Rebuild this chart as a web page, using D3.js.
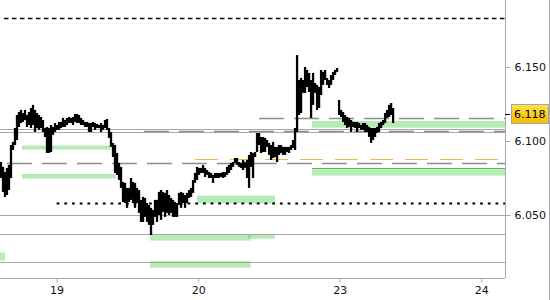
<!DOCTYPE html>
<html>
<head>
<meta charset="utf-8">
<script src="https://cdn.jsdelivr.net/npm/d3@7"></script>
<style>
body { margin: 0; background: #fff; }
svg { display: block; font-family: "DejaVu Sans", sans-serif; }
</style>
</head>
<body>
<svg id="chart"></svg>
<script>
const WIDTH = 550;
const HEIGHT = 300;
const PLOT_W = 505;
const PLOT_H = 278;

// x runs in trading days, weekend removed: 0 = 18th, 1 = 19th, 2 = 20th, 3 = 23rd, 4 = 24th
const DAY_TICKS = [1, 2, 3, 4];
const DAY_LABELS = ["19", "20", "23", "24"];
const X_DOMAIN = [0.6, 4.168];
const Y_DOMAIN = [6.0074, 6.1953];
const PRICE_TICKS = [6.050, 6.100, 6.150];
const PRICE_LABELS = ["6.050", "6.100", "6.150"];

const FIRST_BAR = 0.607;
const BARS_PER_DAY = 70.75;

const HIGHS = [
    6.0858, 6.0825, 6.0791, 6.0818, 6.0838, 6.0973, 6.0994, 6.1088, 6.1176, 6.1196,
    6.1210, 6.1189, 6.1210, 6.1176, 6.1196, 6.1223, 6.1244, 6.1210, 6.1189, 6.1176,
    6.1162, 6.1142, 6.1088, 6.1095, 6.1088, 6.1108, 6.1095, 6.1122, 6.1108, 6.1129,
    6.1129, 6.1156, 6.1142, 6.1156, 6.1162, 6.1156, 6.1162, 6.1183, 6.1183, 6.1176,
    6.1156, 6.1142, 6.1129, 6.1129, 6.1122, 6.1122, 6.1129, 6.1122, 6.1115, 6.1108,
    6.1122, 6.1108, 6.1142, 6.1149, 6.1088, 6.1061, 6.0987, 6.0973, 6.0919, 6.0852,
    6.0825, 6.0723, 6.0717, 6.0683, 6.0683, 6.0750, 6.0723, 6.0717, 6.0683, 6.0669,
    6.0602, 6.0622, 6.0615, 6.0581, 6.0568, 6.0548, 6.0534, 6.0602, 6.0602, 6.0656,
    6.0669, 6.0656, 6.0649, 6.0669, 6.0635, 6.0615, 6.0602, 6.0588, 6.0581, 6.0649,
    6.0656, 6.0649, 6.0635, 6.0649, 6.0669, 6.0683, 6.0737, 6.0784, 6.0825, 6.0818,
    6.0818, 6.0838, 6.0818, 6.0804, 6.0791, 6.0784, 6.0771, 6.0784, 6.0784, 6.0784,
    6.0784, 6.0791, 6.0791, 6.0825, 6.0838, 6.0852, 6.0858, 6.0885, 6.0885, 6.0858,
    6.0852, 6.0872, 6.0858, 6.0872, 6.0906, 6.0926, 6.0919, 6.0926, 6.1054, 6.1054,
    6.1027, 6.1027, 6.1021, 6.1007, 6.0987, 6.0973, 6.0994, 6.0960, 6.0960, 6.0973,
    6.0973, 6.0960, 6.0960, 6.0960, 6.0960, 6.0973, 6.1007, 6.1088, 6.1581, 6.1412,
    6.1426, 6.1412, 6.1500, 6.1480, 6.1460, 6.1412, 6.1460, 6.1392, 6.1379, 6.1365,
    6.1480, 6.1467, 6.1480, 6.1426, 6.1412, 6.1446, 6.1467, 6.1480, 6.1494, 6.1277,
    6.1210, 6.1196, 6.1176, 6.1162, 6.1156, 6.1142, 6.1129, 6.1129, 6.1129, 6.1122,
    6.1108, 6.1122, 6.1122, 6.1108, 6.1095, 6.1088, 6.1088, 6.1088, 6.1095, 6.1122,
    6.1129, 6.1142, 6.1189, 6.1210, 6.1244, 6.1257, 6.1223
];
const LOWS = [
    6.0750, 6.0656, 6.0622, 6.0635, 6.0669, 6.0750, 6.0939, 6.0973, 6.1007, 6.1095,
    6.1122, 6.1129, 6.1142, 6.1095, 6.1108, 6.1088, 6.1108, 6.1061, 6.1088, 6.1075,
    6.1088, 6.1061, 6.1027, 6.0919, 6.0919, 6.0926, 6.1041, 6.1061, 6.1075, 6.1075,
    6.1088, 6.1095, 6.1095, 6.1108, 6.1122, 6.1122, 6.1108, 6.1129, 6.1122, 6.1122,
    6.1108, 6.1108, 6.1095, 6.1095, 6.1061, 6.1061, 6.1095, 6.1075, 6.1088, 6.1088,
    6.1061, 6.1075, 6.1088, 6.1075, 6.1021, 6.0960, 6.0892, 6.0784, 6.0771, 6.0737,
    6.0683, 6.0588, 6.0581, 6.0548, 6.0588, 6.0602, 6.0581, 6.0548, 6.0581, 6.0514,
    6.0453, 6.0453, 6.0487, 6.0453, 6.0433, 6.0365, 6.0433, 6.0487, 6.0453, 6.0500,
    6.0467, 6.0521, 6.0487, 6.0514, 6.0500, 6.0514, 6.0487, 6.0487, 6.0487, 6.0568,
    6.0548, 6.0581, 6.0548, 6.0581, 6.0615, 6.0622, 6.0649, 6.0717, 6.0737, 6.0771,
    6.0784, 6.0784, 6.0757, 6.0771, 6.0750, 6.0750, 6.0717, 6.0750, 6.0750, 6.0750,
    6.0757, 6.0750, 6.0757, 6.0771, 6.0784, 6.0804, 6.0825, 6.0852, 6.0838, 6.0825,
    6.0818, 6.0804, 6.0818, 6.0750, 6.0683, 6.0825, 6.0750, 6.0892, 6.0926, 6.0973,
    6.0919, 6.0926, 6.0926, 6.0960, 6.0906, 6.0872, 6.0885, 6.0892, 6.0858, 6.0906,
    6.0919, 6.0906, 6.0906, 6.0926, 6.0919, 6.0939, 6.0953, 6.0939, 6.1061, 6.1176,
    6.1189, 6.1325, 6.1325, 6.1365, 6.1331, 6.1156, 6.1244, 6.1325, 6.1210, 6.1223,
    6.1311, 6.1379, 6.1412, 6.1379, 6.1358, 6.1379, 6.1412, 6.1446, 6.1467, 6.1176,
    6.1162, 6.1129, 6.1108, 6.1088, 6.1095, 6.1061, 6.1095, 6.1088, 6.1061, 6.1088,
    6.1075, 6.1075, 6.1061, 6.1061, 6.1027, 6.0987, 6.1007, 6.1027, 6.1054, 6.1061,
    6.1088, 6.1108, 6.1122, 6.1156, 6.1162, 6.1176, 6.1122
];
const LAST_PRICE = 6.118;

// full-width solid grey levels
const SOLID_LEVELS = [6.1081, 6.1059, 6.0500, 6.0370, 6.0181];

// dashed levels that start somewhere and run to the price axis
const GREY_DASH_PRICES = [6.1154, 6.1070, 6.0850];
const GREY_DASH_FROM = [2.430, 1.617, 0.649];
const ORANGE_DASH_PRICES = [6.0877];
const ORANGE_DASH_FROM = [1.978];
const BLACK_DASH_PRICES = [6.1831];
const BLACK_DASH_FROM = [0.628];
const DOTTED_PRICES = [6.0579];
const DOTTED_FROM = [1.0];
const GREEN_LINE_PRICES = [6.0816];
const GREEN_LINE_FROM = [2.805];

// green zones
const ZONE_FROM = [0.755, 0.755, 0.55, 1.660, 2.352, 1.660, 1.992, 2.805, 2.805];
const ZONE_TO = [1.377, 1.420, 0.635, 2.371, 2.543, 2.371, 2.543, 4.168, 4.168];
const ZONE_TOP = [6.0969, 6.0777, 6.0246, 6.0365, 6.0370, 6.0189, 6.0631, 6.1135, 6.0809];
const ZONE_BOTTOM = [6.0942, 6.0746, 6.0192, 6.0327, 6.0340, 6.0144, 6.0579, 6.1090, 6.0766];


const svg = d3.select("#chart")
    .attr("width", WIDTH)
    .attr("height", HEIGHT);

const x = d3.scaleLinear().domain(X_DOMAIN).range([0, PLOT_W]);
const y = d3.scaleLinear().domain(Y_DOMAIN).range([PLOT_H, 0]);

svg.append("clipPath").attr("id", "plot-clip")
    .append("rect")
    .attr("width", PLOT_W)
    .attr("height", PLOT_H);

const plot = svg.append("g").attr("clip-path", "url(#plot-clip)");

// zones
const zones = ZONE_FROM.map((f, i) => ({
    from: f, to: ZONE_TO[i], top: ZONE_TOP[i], bottom: ZONE_BOTTOM[i]
}));
plot.selectAll("rect.zone")
    .data(zones)
    .enter()
    .append("rect")
    .attr("class", "zone")
    .attr("x", d => x(d.from))
    .attr("width", d => x(d.to) - x(d.from))
    .attr("y", d => y(d.top))
    .attr("height", d => y(d.bottom) - y(d.top))
    .attr("fill", "rgb(90, 210, 90)")
    .attr("fill-opacity", 0.45);

function drawLevels(prices, from, color, width, dash) {
    plot.append("g")
        .selectAll("line")
        .data(prices.map((p, i) => ({ price: p, from: from ? from[i] : X_DOMAIN[0] })))
        .enter()
        .append("line")
        .attr("x1", d => x(d.from))
        .attr("x2", x(X_DOMAIN[1]))
        .attr("y1", d => Math.round(y(d.price)) + 0.5)
        .attr("y2", d => Math.round(y(d.price)) + 0.5)
        .attr("stroke", color)
        .attr("stroke-width", width)
        .attr("stroke-dasharray", dash);
}

drawLevels(SOLID_LEVELS, null, "#a9a9a9", 1, null);
drawLevels(GREY_DASH_PRICES, GREY_DASH_FROM, "#8c8c8c", 1.3, "25,10");
drawLevels(ORANGE_DASH_PRICES, ORANGE_DASH_FROM, "#f2b84b", 1.2, "23,12");
drawLevels(BLACK_DASH_PRICES, BLACK_DASH_FROM, "#000", 1.3, "4.5,3.5");
drawLevels(DOTTED_PRICES, DOTTED_FROM, "#000", 2, "2.8,4.9");
drawLevels(GREEN_LINE_PRICES, GREEN_LINE_FROM, "#46c346", 1.2, null);

// price bars
const bars = HIGHS.map((h, i) => ({
    t: FIRST_BAR + i / BARS_PER_DAY,
    high: h,
    low: LOWS[i]
}));
plot.append("g")
    .selectAll("line")
    .data(bars)
    .enter()
    .append("line")
    .attr("x1", d => x(d.t))
    .attr("x2", d => x(d.t))
    .attr("y1", d => y(d.high))
    .attr("y2", d => y(d.low))
    .attr("stroke", "#000")
    .attr("stroke-width", 2.3);

// axes
const xAxis = d3.axisBottom(x)
    .tickValues(DAY_TICKS)
    .tickFormat((d, i) => DAY_LABELS[i])
    .tickSize(4)
    .tickPadding(4);
const gx = svg.append("g")
    .attr("transform", `translate(0,${PLOT_H + 0.5})`)
    .call(xAxis);
gx.select(".domain").attr("d", `M0,0H${PLOT_W}`);

const yAxis = d3.axisRight(y)
    .tickValues(PRICE_TICKS)
    .tickFormat((d, i) => PRICE_LABELS[i])
    .tickSize(5)
    .tickPadding(4);
const gy = svg.append("g")
    .attr("transform", `translate(${PLOT_W + 0.5},0)`)
    .call(yAxis);
gy.select(".domain").attr("d", `M0,0V${PLOT_H}`);

svg.selectAll(".domain, .tick line").attr("stroke", "#aaa");
svg.selectAll(".tick text")
    .attr("fill", "#111")
    .style("font-size", "11px")
    .style("font-family", "'DejaVu Sans', sans-serif");

// right border
svg.append("line")
    .attr("x1", WIDTH - 0.5).attr("x2", WIDTH - 0.5)
    .attr("y1", 0).attr("y2", HEIGHT)
    .attr("stroke", "#aaa");

// last price marker
const grad = svg.append("defs").append("linearGradient")
    .attr("id", "gold").attr("x1", 0).attr("x2", 0).attr("y1", 0).attr("y2", 1);
grad.append("stop").attr("offset", "0%").attr("stop-color", "#ffe24a");
grad.append("stop").attr("offset", "100%").attr("stop-color", "#f3bc00");

const ly = y(LAST_PRICE);
svg.append("line")
    .attr("x1", PLOT_W).attr("x2", PLOT_W + 5)
    .attr("y1", Math.round(ly) + 0.5).attr("y2", Math.round(ly) + 0.5)
    .attr("stroke", "#000");
svg.append("rect")
    .attr("x", PLOT_W + 6.5)
    .attr("y", Math.round(ly) - 9.5)
    .attr("width", 37)
    .attr("height", 19)
    .attr("fill", "url(#gold)")
    .attr("stroke", "#a6a6a6");
svg.append("text")
    .attr("x", PLOT_W + 9)
    .attr("y", ly)
    .attr("dy", "0.36em")
    .attr("fill", "#000")
    .style("font-size", "11px")
    .text(LAST_PRICE.toFixed(3));
</script>
</body>
</html>
